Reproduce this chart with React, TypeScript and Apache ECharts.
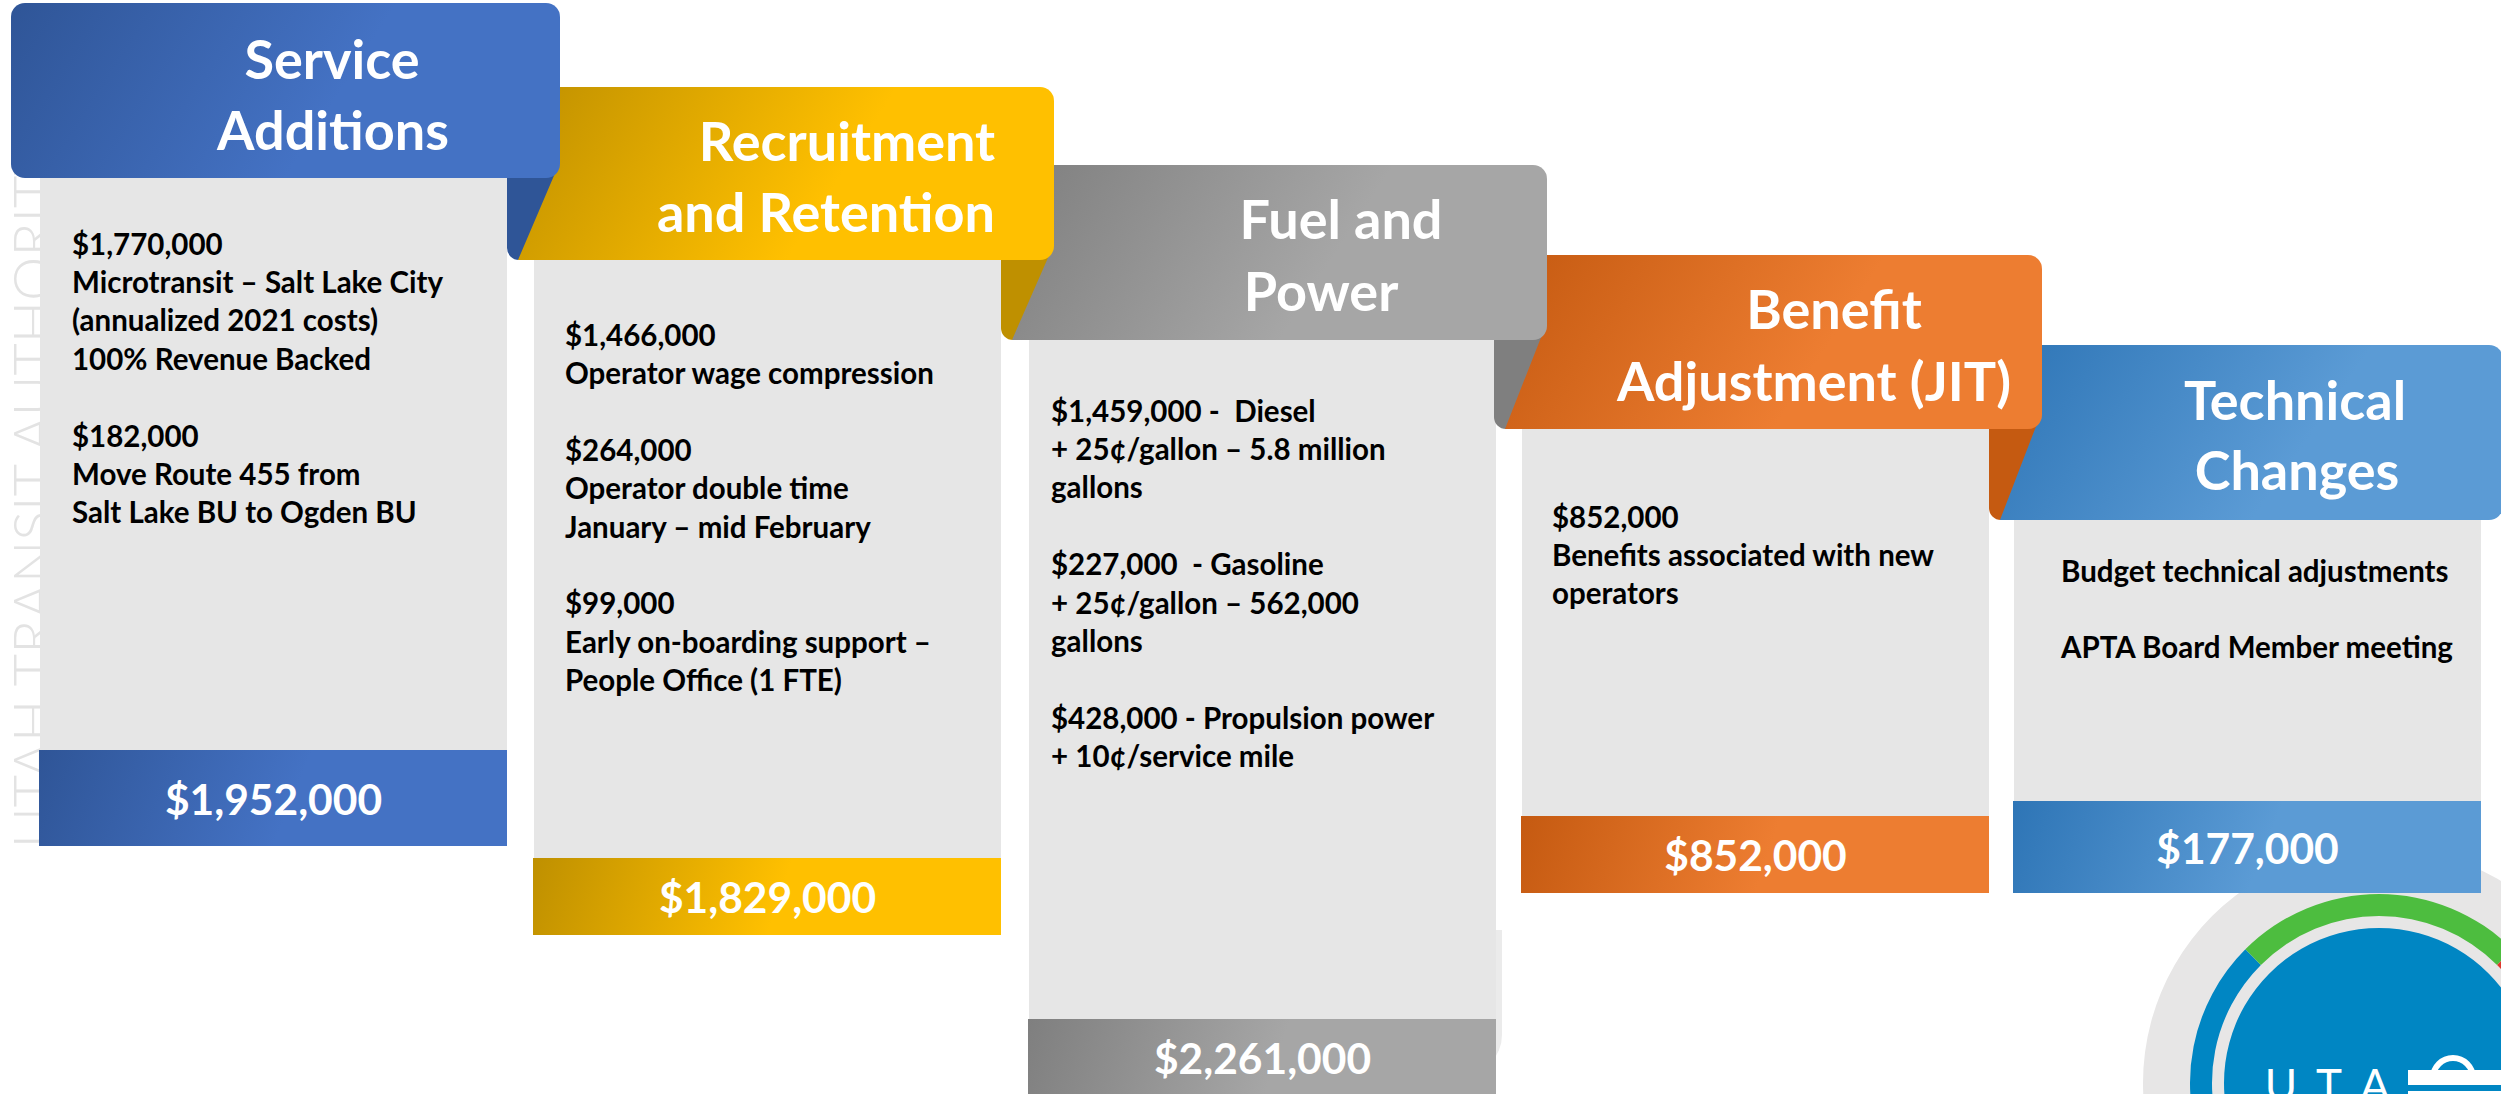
import React, { useEffect, useRef } from "react";
import * as echarts from "echarts";

// ---------- DATA ----------
const categories = [
  "Service Additions",
  "Recruitment and Retention",
  "Fuel and Power",
  "Benefit Adjustment (JIT)",
  "Technical Changes",
];
const titleLines = [
  ["Service", "Additions"],
  ["Recruitment", "and Retention"],
  ["Fuel and", "Power"],
  ["Benefit", "Adjustment (JIT)"],
  ["Technical", "Changes"],
];
const totals = [1952000, 1829000, 2261000, 852000, 177000];
const serviceAdditions = [
  "$1,770,000",
  "Microtransit – Salt Lake City",
  "(annualized 2021 costs)",
  "100% Revenue Backed",
  "",
  "$182,000",
  "Move Route 455 from",
  "Salt Lake BU to Ogden BU",
];
const recruitmentRetention = [
  "$1,466,000",
  "Operator wage compression",
  "",
  "$264,000",
  "Operator double time",
  "January – mid February",
  "",
  "$99,000",
  "Early on-boarding support –",
  "People Office (1 FTE)",
];
const fuelPower = [
  "$1,459,000 -  Diesel",
  "+ 25¢/gallon – 5.8 million",
  "gallons",
  "",
  "$227,000  - Gasoline",
  "+ 25¢/gallon – 562,000",
  "gallons",
  "",
  "$428,000 - Propulsion power",
  "+ 10¢/service mile",
];
const benefitAdjustment = [
  "$852,000",
  "Benefits associated with new",
  "operators",
];
const technicalChanges = [
  "Budget technical adjustments",
  "",
  "APTA Board Member meeting",
];
const details = [
  serviceAdditions,
  recruitmentRetention,
  fuelPower,
  benefitAdjustment,
  technicalChanges,
];
const watermark = "UTAH TRANSIT AUTHORITY";
const logoLetters = ["U", "T", "A"];

// ---------- LAYOUT / STYLE ----------
const HEADERS = [
  { x0: 11, x1: 560, y0: 3, y1: 178 },
  { x0: 0, x1: 1054, y0: 87, y1: 260 },
  { x0: 0, x1: 1547, y0: 165, y1: 340 },
  { x0: 0, x1: 2042, y0: 255, y1: 429 },
  { x0: 0, x1: 2503, y0: 345, y1: 520 },
];
const BODY_X = [40, 534, 1029, 1522, 2014];
const BODY_W = 467;
const BAR_TOP = [750, 858, 1019, 816, 801];
const BAR_BOTTOM = [846, 935, 1100, 893, 893];
const FIRST_LINE_Y = [243, 334, 410, 516, 570];
const TEXT_X = [72, 565, 1051, 1552, 2061];
const LINE_PITCH = 38.4;
const TITLE_Y = [
  [58, 129],
  [140, 211],
  [218, 290],
  [308, 380],
  [399, 469],
];
const TITLE_CX = [
  [332, 333],
  [847, 826],
  [1341, 1321],
  [1834, 1814],
  [2295, 2297],
];
const PALETTE = [
  { dark: "#2F5597", light: "#4472C4" },
  { dark: "#BF9000", light: "#FFC000" },
  { dark: "#7F7F7F", light: "#A6A6A6" },
  { dark: "#C55A11", light: "#ED7D31" },
  { dark: "#2E75B6", light: "#5B9BD5" },
];
const BODY_FILL = "#E6E6E6";
const FONT = "Lato, 'Open Sans', sans-serif";
const LOGO = { cx: 2379, cy: 1083, rGrey: 236, rRing: 189, rRing0: 167, rDisk: 155 };

const money = (v: number) => "$" + v.toLocaleString("en-US");

function grad(x: number, y: number, w: number, h: number, c: { dark: string; light: string }) {
  return new echarts.graphic.LinearGradient(
    x,
    y,
    x + w * 0.5,
    y + h,
    [
      { offset: 0, color: c.dark },
      { offset: 1, color: c.light },
    ],
    true
  );
}

function buildOption() {
  const els: any[] = [];

  // watermark
  els.push({
    type: "text",
    x: 31,
    y: 848,
    rotation: Math.PI / 2,
    style: {
      text: watermark,
      fontSize: 56,
      fontFamily: FONT,
      fontWeight: 300,
      fill: "#E3E3E3",
      align: "left",
      verticalAlign: "middle",
    },
  });

  // faint background rounded shape behind the fuel column
  els.push({
    type: "rect",
    shape: { x: 1029, y: 930, width: 473, height: 145, r: [0, 0, 40, 0] },
    style: { fill: "#EBEBEB" },
  });

  // logo
  els.push({
    type: "circle",
    shape: { cx: LOGO.cx, cy: LOGO.cy, r: LOGO.rGrey },
    style: { fill: "#E7E6E6" },
  });
  const ringSegs = [
    { s: Math.PI / 2, e: (5 * Math.PI) / 4, c: "#0086C3" },
    { s: (5 * Math.PI) / 4, e: (7 * Math.PI) / 4, c: "#4DBD3F" },
    { s: (7 * Math.PI) / 4, e: 2 * Math.PI + Math.PI / 4, c: "#E0382D" },
  ];
  ringSegs.forEach((sg) =>
    els.push({
      type: "sector",
      shape: {
        cx: LOGO.cx,
        cy: LOGO.cy,
        r: LOGO.rRing,
        r0: LOGO.rRing0,
        startAngle: sg.s,
        endAngle: sg.e,
        clockwise: true,
      },
      style: { fill: sg.c },
    })
  );
  els.push({
    type: "circle",
    shape: { cx: LOGO.cx, cy: LOGO.cy, r: LOGO.rDisk },
    style: { fill: "#0086C3" },
  });
  const letterX = [2281, 2329, 2375];
  logoLetters.forEach((l, k) =>
    els.push({
      type: "text",
      x: letterX[k],
      y: 1084,
      style: {
        text: l,
        fontSize: 44,
        fontFamily: FONT,
        fontWeight: 400,
        fill: "#FFFFFF",
        align: "center",
        verticalAlign: "middle",
      },
    })
  );
  els.push({
    type: "arc",
    shape: { cx: 2453, cy: 1078, r: 20, startAngle: Math.PI, endAngle: 2 * Math.PI, clockwise: true },
    style: { stroke: "#FFFFFF", lineWidth: 6, fill: "none" },
  });
  els.push({ type: "rect", shape: { x: 2408, y: 1070, width: 95, height: 15 }, style: { fill: "#FFFFFF" } });
  els.push({ type: "rect", shape: { x: 2408, y: 1091, width: 95, height: 6 }, style: { fill: "#FFFFFF" } });

  // bodies + bars
  for (let i = 0; i < 5; i++) {
    const top = HEADERS[i].y1 - 4;
    els.push({
      type: "rect",
      shape: { x: BODY_X[i], y: top, width: BODY_W, height: BAR_BOTTOM[i] - top },
      style: { fill: BODY_FILL },
    });
    const bh = BAR_BOTTOM[i] - BAR_TOP[i];
    els.push({
      type: "rect",
      shape: { x: BODY_X[i] - 1, y: BAR_TOP[i], width: BODY_W + 1, height: bh },
      style: { fill: grad(BODY_X[i], BAR_TOP[i], BODY_W, bh, PALETTE[i]) },
    });
    const barMid = i === 2 ? 1057 : (BAR_TOP[i] + BAR_BOTTOM[i]) / 2;
    els.push({
      type: "text",
      x: BODY_X[i] + BODY_W / 2,
      y: barMid,
      style: {
        text: money(totals[i]),
        fontSize: 42.5,
        fontFamily: FONT,
        fontWeight: "bold",
        fill: "#FFFFFF",
        align: "center",
        verticalAlign: "middle",
      },
    });
    details[i].forEach((line, k) => {
      if (!line) return;
      els.push({
        type: "text",
        x: TEXT_X[i],
        y: FIRST_LINE_Y[i] + k * LINE_PITCH,
        style: {
          text: line,
          fontSize: 29.5,
          fontFamily: FONT,
          fontWeight: "bold",
          fill: "#000000",
          align: "left",
          verticalAlign: "middle",
        },
      });
    });
  }

  // folds (behind next header)
  for (let i = 1; i < 5; i++) {
    const prev = HEADERS[i - 1];
    const h = HEADERS[i];
    const xr = prev.x1;
    els.push({
      type: "rect",
      shape: { x: xr - 53, y: prev.y1 - 20, width: 56, height: h.y1 - prev.y1 + 20, r: [0, 0, 0, 12] },
      style: { fill: PALETTE[i - 1].dark },
    });
  }

  // headers from last to first
  for (let i = 4; i >= 0; i--) {
    const h = HEADERS[i];
    const hh = h.y1 - h.y0;
    if (i === 0) {
      els.push({
        type: "rect",
        shape: { x: h.x0, y: h.y0, width: h.x1 - h.x0, height: hh, r: 14 },
        style: { fill: grad(h.x0, h.y0, h.x1 - h.x0, hh, PALETTE[0]) },
      });
    } else {
      const prev = HEADERS[i - 1];
      const xr = prev.x1;
      const gx = xr - 42;
      const g = grad(gx, h.y0, h.x1 - gx, hh, PALETTE[i]);
      els.push({
        type: "polygon",
        shape: {
          points: [
            [xr - 12, h.y0],
            [xr + 30, h.y0],
            [xr + 30, h.y1],
            [xr - 42, h.y1],
            [xr - 7, prev.y1],
            [xr - 1, prev.y1 - 14],
            [xr - 12, prev.y1 - 14],
          ],
        },
        style: { fill: g },
      });
      els.push({
        type: "rect",
        shape: { x: xr + 20, y: h.y0, width: h.x1 - xr - 20, height: hh, r: [0, 14, 14, 0] },
        style: { fill: g },
      });
    }
  }

  // header titles
  for (let i = 0; i < 5; i++) {
    titleLines[i].forEach((t, k) =>
      els.push({
        type: "text",
        x: TITLE_CX[i][k],
        y: TITLE_Y[i][k],
        style: {
          text: t,
          fontSize: 54,
          fontFamily: FONT,
          fontWeight: "bold",
          fill: "#FFFFFF",
          align: "center",
          verticalAlign: "middle",
        },
      })
    );
  }

  return {
    animation: false,
    backgroundColor: "#FFFFFF",
    aria: { enabled: true, label: { description: categories.join(", ") } },
    graphic: { elements: els },
  };
}

export default function App() {
  const ref = useRef<HTMLDivElement>(null);
  useEffect(() => {
    document.body.style.margin = "0";
    document.body.style.overflow = "hidden";
    const chart = echarts.init(ref.current as HTMLDivElement, null, { renderer: "svg" });
    chart.setOption(buildOption() as any);
    return () => chart.dispose();
  }, []);
  return <div ref={ref} style={{ width: 2501, height: 1094, background: "#FFFFFF" }} />;
}
